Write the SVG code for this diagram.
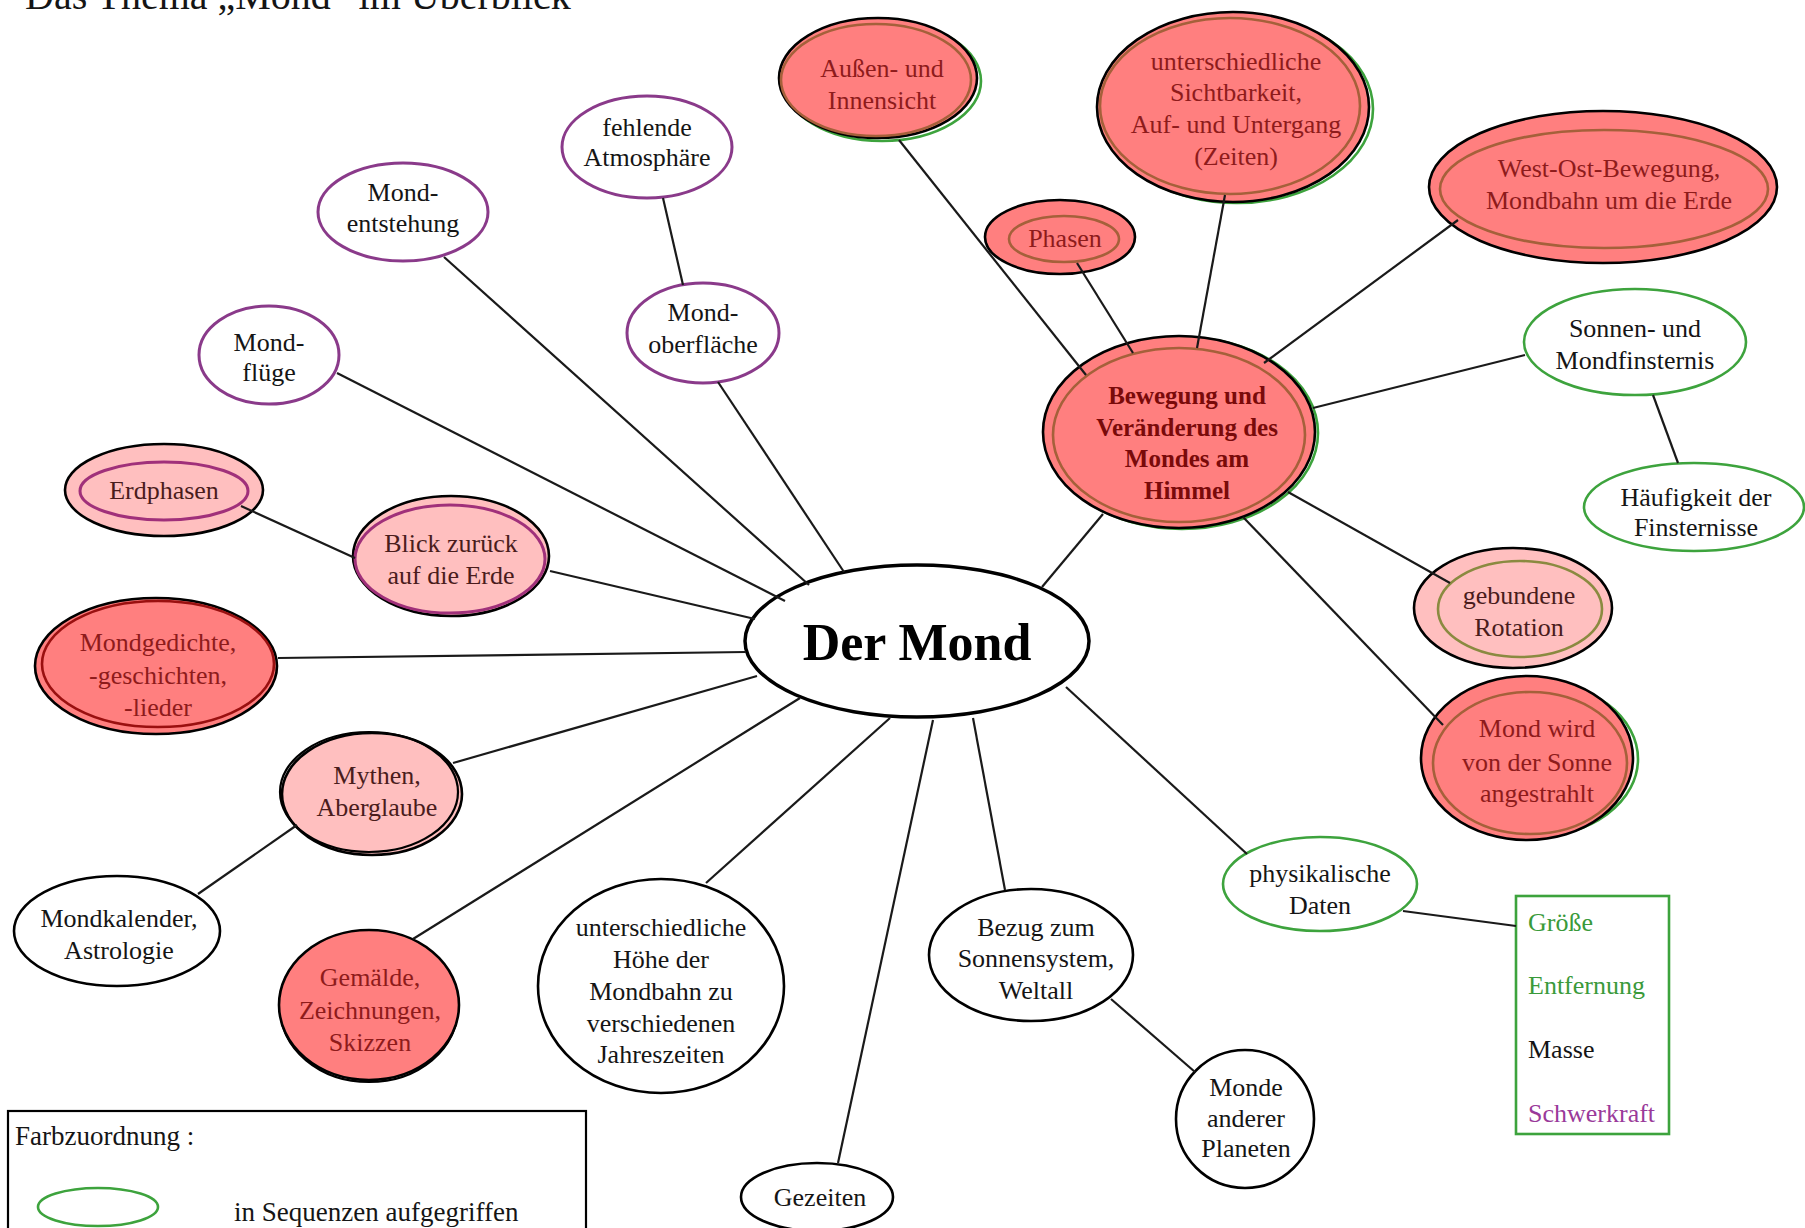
<svg xmlns="http://www.w3.org/2000/svg" width="1805" height="1228" viewBox="0 0 1805 1228">
<style>
text{font-family:"Liberation Serif","Times New Roman",serif;font-size:26px;text-anchor:middle;fill:#151515}
.red{fill:#FF7F7F;stroke:#000;stroke-width:2.6}
.pink{fill:#FFBFBF;stroke:#000;stroke-width:2.6}
.white{fill:#fff;stroke:#000;stroke-width:2.6}
.purple{fill:#fff;stroke:#8A3A8A;stroke-width:3}
.green{fill:#fff;stroke:#3DA33D;stroke-width:2.6}
.greenback{fill:none;stroke:#3DA33D;stroke-width:2.6}
.inbrown{fill:none;stroke:#A5603A;stroke-width:2.6}
.inpurple{fill:none;stroke:#A0307A;stroke-width:3}
.inolive{fill:none;stroke:#8A8A40;stroke-width:2.6}
.indred{fill:none;stroke:#9A1010;stroke-width:2.6}
.dbl{fill:none;stroke:#000;stroke-width:2.2}
.tr{fill:#8E1B1B}
.tp{fill:#4A1C1C}
.tb{fill:#7A0A0A;font-weight:bold;font-size:25px}
.lt{text-anchor:start}
#connectors line{stroke:#1a1a1a;stroke-width:2.2}
</style>

<text x="25" y="9" class="lt" style="font-size:40px">Das Thema „Mond“ im Überblick</text>

<g id="n-mond"><ellipse cx="917" cy="641" rx="172" ry="76" class="white" style="stroke-width:3.5"/><text x="917" y="660" style="font-size:52px;font-weight:bold;fill:#000">Der Mond</text></g>

<g id="n-fehlende"><ellipse cx="647" cy="147" rx="85" ry="51" class="purple"/><text x="647" y="136">fehlende</text><text x="647" y="166">Atmosphäre</text></g>
<g id="n-entstehung"><ellipse cx="403" cy="212" rx="85" ry="49" class="purple"/><text x="403" y="201">Mond-</text><text x="403" y="232">entstehung</text></g>
<g id="n-oberflaeche"><ellipse cx="703" cy="333" rx="76" ry="50" class="purple"/><text x="703" y="321">Mond-</text><text x="703" y="353">oberfläche</text></g>
<g id="n-fluege"><ellipse cx="269" cy="355" rx="70" ry="49" class="purple"/><text x="269" y="351">Mond-</text><text x="269" y="381">flüge</text></g>

<g id="n-erdphasen"><ellipse cx="164" cy="490" rx="99" ry="46" class="pink"/><ellipse cx="164" cy="491" rx="84" ry="29" class="inpurple"/><text x="164" y="499" class="tp">Erdphasen</text></g>
<g id="n-blick"><ellipse cx="451" cy="556" rx="98" ry="60" class="pink"/><ellipse cx="450" cy="559" rx="95" ry="54" class="inpurple"/><text x="451" y="552" class="tp">Blick zurück</text><text x="451" y="584" class="tp">auf die Erde</text></g>
<g id="n-gedichte"><ellipse cx="156" cy="666" rx="121" ry="68" class="red"/><ellipse cx="158" cy="664" rx="116" ry="63" class="indred"/><text x="158" y="651" class="tr">Mondgedichte,</text><text x="158" y="684" class="tr">-geschichten,</text><text x="158" y="716" class="tr">-lieder</text></g>
<g id="n-mythen"><ellipse cx="372" cy="794" rx="90" ry="61" class="pink"/><ellipse cx="369" cy="792" rx="89" ry="60" class="dbl"/><text x="377" y="784" class="tp">Mythen,</text><text x="377" y="816" class="tp">Aberglaube</text></g>
<g id="n-kalender"><ellipse cx="117" cy="931" rx="103" ry="55" class="white"/><text x="119" y="927">Mondkalender,</text><text x="119" y="959">Astrologie</text></g>
<g id="n-gemaelde"><ellipse cx="369" cy="1008" rx="89" ry="74" class="dbl"/><ellipse cx="369" cy="1005" rx="90" ry="75" class="red"/><text x="370" y="986" class="tr">Gemälde,</text><text x="370" y="1019" class="tr">Zeichnungen,</text><text x="370" y="1051" class="tr">Skizzen</text></g>
<g id="n-hoehe"><ellipse cx="661" cy="986" rx="123" ry="107" class="white"/><text x="661" y="936">unterschiedliche</text><text x="661" y="968">Höhe der</text><text x="661" y="1000">Mondbahn zu</text><text x="661" y="1032">verschiedenen</text><text x="661" y="1063">Jahreszeiten</text></g>
<g id="n-gezeiten"><ellipse cx="817" cy="1197" rx="76" ry="34" class="white"/><text x="820" y="1206">Gezeiten</text></g>
<g id="n-bezug"><ellipse cx="1031" cy="955" rx="102" ry="66" class="white"/><text x="1036" y="936">Bezug zum</text><text x="1036" y="967">Sonnensystem,</text><text x="1036" y="999">Weltall</text></g>
<g id="n-monde"><ellipse cx="1245" cy="1119" rx="69" ry="69" class="white"/><text x="1246" y="1096">Monde</text><text x="1246" y="1127">anderer</text><text x="1246" y="1157">Planeten</text></g>
<g id="n-physik"><ellipse cx="1320" cy="884" rx="97" ry="47" class="green"/><text x="1320" y="882">physikalische</text><text x="1320" y="914">Daten</text></g>
<g id="n-daten"><rect x="1516" y="896" width="153" height="238" fill="#fff" stroke="#3DA33D" stroke-width="2.6"/><text x="1528" y="931" class="lt" style="fill:#3A9A3A">Größe</text><text x="1528" y="994" class="lt" style="fill:#3A9A3A">Entfernung</text><text x="1528" y="1058" class="lt">Masse</text><text x="1528" y="1122" class="lt" style="fill:#9A3A9A">Schwerkraft</text></g>
<g id="n-sonnen"><ellipse cx="1635" cy="342" rx="111" ry="53" class="green"/><text x="1635" y="337">Sonnen- und</text><text x="1635" y="369">Mondfinsternis</text></g>
<g id="n-haeufigkeit"><ellipse cx="1694" cy="507" rx="110" ry="44" class="green"/><text x="1696" y="506">Häufigkeit der</text><text x="1696" y="536">Finsternisse</text></g>
<g id="n-gebunden"><ellipse cx="1513" cy="608" rx="99" ry="60" class="pink"/><ellipse cx="1520" cy="609" rx="82" ry="48" class="inolive"/><text x="1519" y="604" class="tp">gebundene</text><text x="1519" y="636" class="tp">Rotation</text></g>
<g id="n-mondwird"><ellipse cx="1533" cy="759" rx="105" ry="78" class="greenback"/><ellipse cx="1527" cy="758" rx="106" ry="82" class="red"/><ellipse cx="1530" cy="763" rx="97" ry="71" class="inbrown"/><text x="1537" y="737" class="tr">Mond wird</text><text x="1537" y="771" class="tr">von der Sonne</text><text x="1537" y="802" class="tr">angestrahlt</text></g>
<g id="n-bewegung"><ellipse cx="1182" cy="433" rx="136" ry="96" class="greenback"/><ellipse cx="1179" cy="432" rx="136" ry="96" class="red"/><ellipse cx="1179" cy="435" rx="126" ry="87" class="inbrown"/><text x="1187" y="404" class="tb">Bewegung und</text><text x="1187" y="436" class="tb">Veränderung des</text><text x="1187" y="467" class="tb">Mondes am</text><text x="1187" y="499" class="tb">Himmel</text></g>
<g id="n-aussen"><ellipse cx="882" cy="81" rx="99" ry="60" class="greenback"/><ellipse cx="878" cy="78" rx="99" ry="60" class="red"/><ellipse cx="876" cy="80" rx="95" ry="56" class="inbrown"/><text x="882" y="77" class="tr">Außen- und</text><text x="882" y="109" class="tr">Innensicht</text></g>
<g id="n-sichtbarkeit"><ellipse cx="1237" cy="109" rx="136" ry="94" class="greenback"/><ellipse cx="1233" cy="107" rx="136" ry="95" class="red"/><ellipse cx="1230" cy="106" rx="130" ry="88" class="inbrown"/><text x="1236" y="70" class="tr">unterschiedliche</text><text x="1236" y="101" class="tr">Sichtbarkeit,</text><text x="1236" y="133" class="tr">Auf- und Untergang</text><text x="1236" y="165" class="tr">(Zeiten)</text></g>
<g id="n-phasen"><ellipse cx="1060" cy="237" rx="75" ry="37" class="red"/><ellipse cx="1064" cy="239" rx="55" ry="23" class="inbrown"/><text x="1065" y="247" class="tr">Phasen</text></g>
<g id="n-westost"><ellipse cx="1603" cy="187" rx="174" ry="76" class="red"/><ellipse cx="1604" cy="189" rx="164" ry="59" class="inbrown"/><text x="1609" y="177" class="tr">West-Ost-Bewegung,</text><text x="1609" y="209" class="tr">Mondbahn um die Erde</text></g>

<g id="connectors">
<line x1="444" y1="257" x2="809" y2="585"/>
<line x1="663" y1="198" x2="683" y2="285"/>
<line x1="718" y1="382" x2="844" y2="572"/>
<line x1="337" y1="373" x2="785" y2="601"/>
<line x1="241" y1="506" x2="355" y2="558"/>
<line x1="550" y1="571" x2="755" y2="619"/>
<line x1="278" y1="658" x2="746" y2="652"/>
<line x1="453" y1="763" x2="757" y2="676"/>
<line x1="297" y1="825" x2="198" y2="894"/>
<line x1="413" y1="939" x2="800" y2="698"/>
<line x1="706" y1="883" x2="890" y2="718"/>
<line x1="838" y1="1163" x2="933" y2="720"/>
<line x1="1005" y1="890" x2="973" y2="718"/>
<line x1="1111" y1="999" x2="1195" y2="1072"/>
<line x1="1247" y1="854" x2="1066" y2="687"/>
<line x1="1403" y1="911" x2="1516" y2="926"/>
<line x1="1042" y1="587" x2="1103" y2="514"/>
<line x1="899" y1="140" x2="1086" y2="375"/>
<line x1="1077" y1="263" x2="1133" y2="353"/>
<line x1="1225" y1="195" x2="1197" y2="348"/>
<line x1="1458" y1="220" x2="1264" y2="363"/>
<line x1="1525" y1="355" x2="1313" y2="408"/>
<line x1="1653" y1="395" x2="1678" y2="463"/>
<line x1="1288" y1="492" x2="1450" y2="583"/>
<line x1="1243" y1="517" x2="1443" y2="725"/>
</g>

<g id="legend">
<rect x="8" y="1111" width="578" height="130" fill="#fff" stroke="#000" stroke-width="2.2"/>
<text x="15" y="1145" class="lt" style="font-size:27px">Farbzuordnung :</text>
<ellipse cx="98" cy="1207" rx="60" ry="19" class="greenback"/>
<text x="234" y="1221" class="lt" style="font-size:27px">in Sequenzen aufgegriffen</text>
</g>
</svg>
